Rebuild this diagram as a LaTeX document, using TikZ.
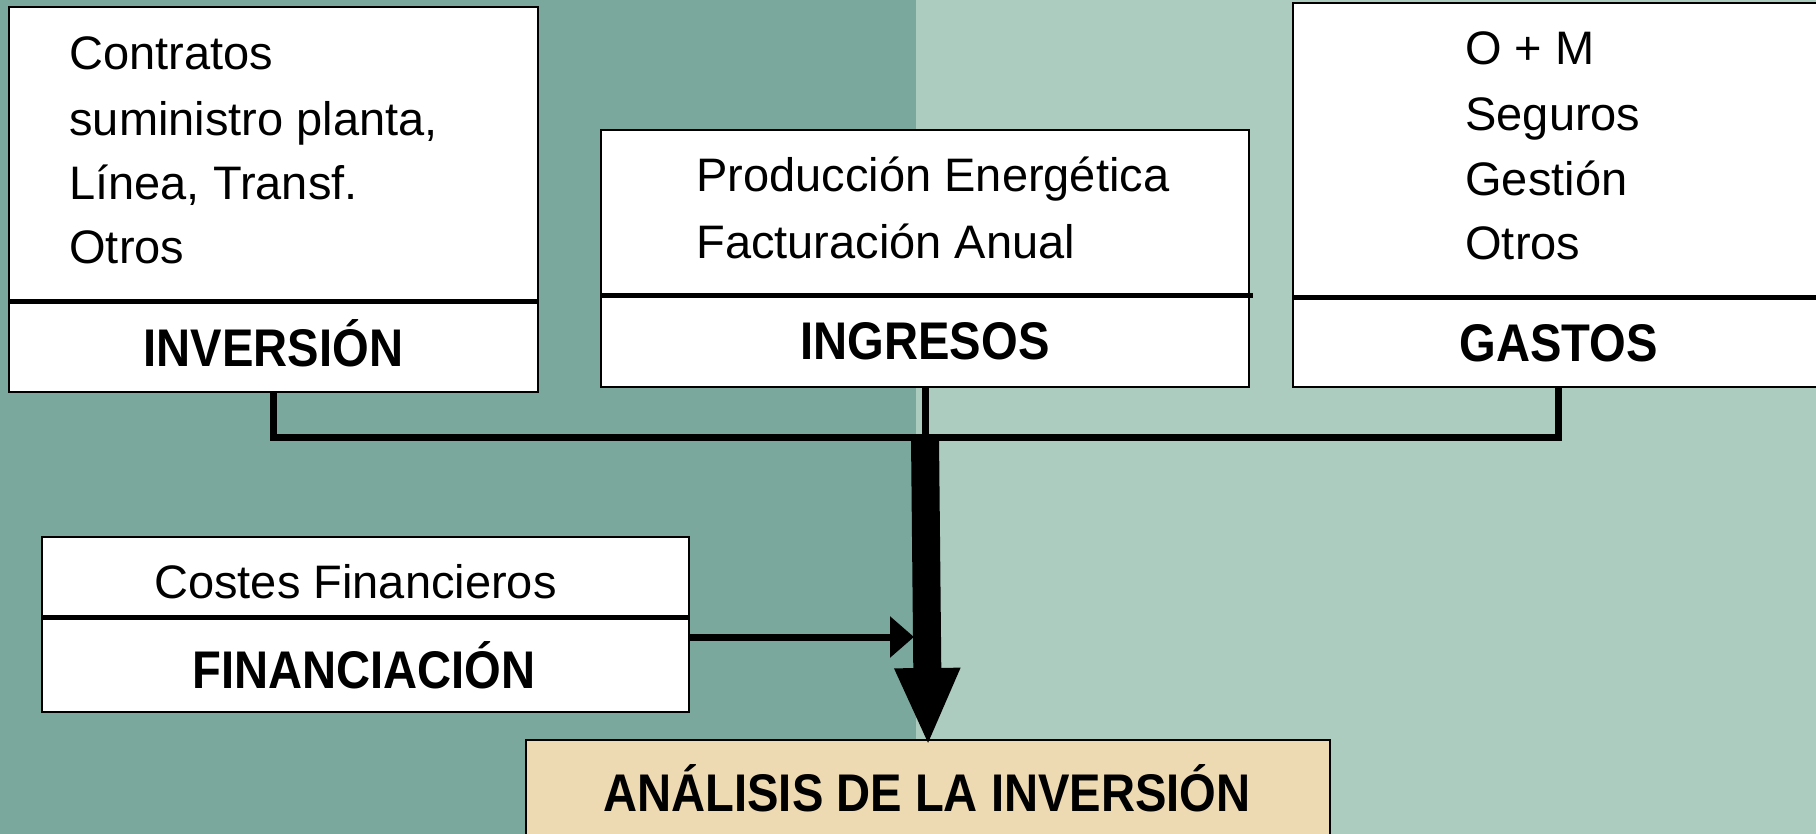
\documentclass[tikz,border=0pt]{standalone}
\usepackage{fontspec}
\setmainfont{Liberation Sans}
\newfontfamily\hdfont[FakeStretch=0.89]{Liberation Sans}
\usetikzlibrary{fit,arrows.meta}
\definecolor{darkbg}{RGB}{122,168,157}
\definecolor{lightbg}{RGB}{172,204,192}
\definecolor{tanbox}{RGB}{237,217,178}
\begin{document}
\begin{tikzpicture}[x=0.5pt,y=-0.5pt,
  box/.style={draw=black,line width=1pt,fill=white,inner sep=0pt},
  divider/.style={line width=2.5pt},
  item/.style={anchor=base west,inner sep=0pt,font=\fontsize{23.5}{28}\selectfont},
  head/.style={anchor=base,inner sep=0pt,font=\hdfont\fontsize{26.5}{30}\selectfont\bfseries},
  conn/.style={line width=3.5pt,line join=miter},
  bigarrow/.style={line width=14pt,-{Triangle[width=30pt,length=39pt]},shorten >=-3.5pt},
  smallarrow/.style={line width=3.5pt,-{Triangle[width=20pt,length=12pt]},shorten >=-1pt}]
\useasboundingbox (0,0) rectangle (1816,834);
\clip (0,0) rectangle (1816,834);
\fill[darkbg] (0,0) rectangle (916,834);
\fill[lightbg] (916,0) rectangle (1816,834);

% INVERSION
\node[box, fit={(9,7)(538,392)}] (inv) {};
\draw[divider] (9,302) -- (538,302);
\node[item] (i1) at (69,70) {Contratos};
\node[item] (i2) at (69,135.5) {suministro planta,};
\node[item] (i3) at (69,200) {Línea, Transf.};
\node[item] (i4) at (69,264) {Otros};
\node[head] (ih) at (273.5,366) {INVERSIÓN};

% INGRESOS
\node[box, fit={(601,130)(1249,387)}] (ing) {};
\draw[divider] (601,296) -- (1253,296);
\node[item] (g1) at (696,192) {Producción Energética};
\node[item] (g2) at (696,259) {Facturación Anual};
\node[head] (gh) at (925,359) {INGRESOS};

% GASTOS
\node[box, fit={(1293,3.5)(1824,387)}] (gas) {};
\draw[divider] (1293,298) -- (1824,298);
\node[item] (s1) at (1465,65) {O + M};
\node[item] (s2) at (1465,131) {Seguros};
\node[item] (s3) at (1465,196) {Gestión};
\node[item] (s4) at (1465,260) {Otros};
\node[head] (sh) at (1558.5,362) {GASTOS};

% FINANCIACION
\node[box, fit={(42,537)(689,712)}] (fin) {};
\draw[divider] (42,617) -- (689,617);
\node[anchor=base,inner sep=0pt,font=\fontsize{23.5}{28}\selectfont] (f1) at (355.5,598) {Costes Financieros};
\node[head] (fh) at (364,688) {FINANCIACIÓN};

% ANALISIS
\node[box, fill=tanbox, fit={(526,740)(1330,880)}] (ana) {};
\node[head] (ah) at (927,811) {ANÁLISIS DE LA INVERSIÓN};

% connectors
\coordinate (hy) at (925,437);
\coordinate (shaftL) at (912,637);
\draw[conn] (inv.south) |- (hy) -| (gas.south);
\draw[conn] (ing.south) -- (hy);
\draw[bigarrow] (hy) -- (ana.north);
\draw[smallarrow] (fin.east |- shaftL) -- (shaftL);
\end{tikzpicture}
\end{document}
